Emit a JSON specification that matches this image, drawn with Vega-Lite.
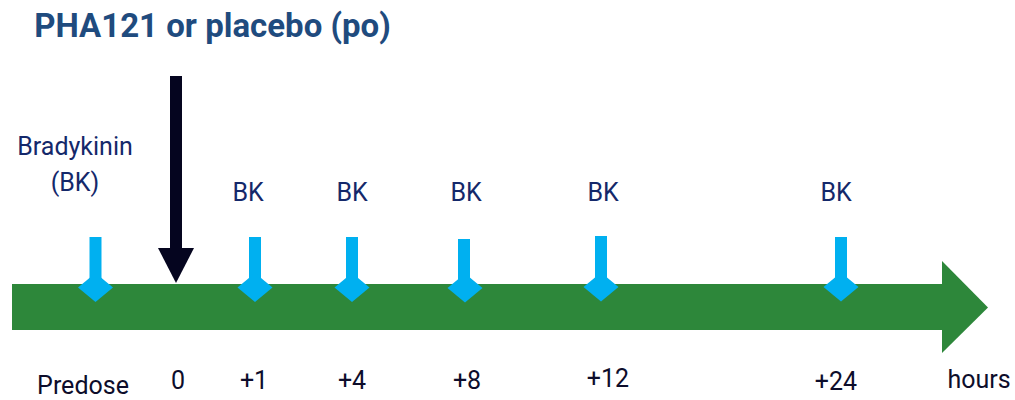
{
  "$schema": "https://vega.github.io/schema/vega-lite/v6.json",
  "width": 1015,
  "height": 400,
  "autosize": {"type": "fit", "contains": "padding"},
  "padding": 0,
  "background": "white",
  "config": {"view": {"stroke": null}},
  "datasets": {
    "band": [{"x": 12, "x2": 943, "y": 284, "y2": 330}],
    "head": [{"x": 942, "y": 261, "y2": 353}, {"x": 988, "y": 307.5, "y2": 307.5}],
    "shaft": [{"x": 170, "x2": 182, "y": 76, "y2": 250}],
    "dosehead": [{"y": 248, "x": 158, "x2": 194}, {"y": 283, "x": 176, "x2": 176}],
    "bk": [
      {"x": 95.5, "y": 237, "y2": 280},
      {"x": 255, "y": 237, "y2": 280},
      {"x": 352, "y": 237, "y2": 280},
      {"x": 464, "y": 239, "y2": 280},
      {"x": 601, "y": 236, "y2": 280},
      {"x": 841, "y": 237, "y2": 280}
    ],
    "diamonds": [
      {"x": 95.5, "y": 287.5},
      {"x": 255, "y": 287.5},
      {"x": 352, "y": 287.5},
      {"x": 465, "y": 288},
      {"x": 601, "y": 287},
      {"x": 841, "y": 287}
    ],
    "bklabels": [
      {"x": 75, "y": 155, "t": "Bradykinin"},
      {"x": 75, "y": 191, "t": "(BK)"},
      {"x": 248, "y": 201, "t": "BK"},
      {"x": 352, "y": 201, "t": "BK"},
      {"x": 466, "y": 201, "t": "BK"},
      {"x": 603, "y": 201, "t": "BK"},
      {"x": 836, "y": 201, "t": "BK"}
    ],
    "timelabels": [
      {"x": 83, "y": 394, "t": "Predose"},
      {"x": 178, "y": 389, "t": "0"},
      {"x": 254, "y": 389, "t": "+1"},
      {"x": 352, "y": 389, "t": "+4"},
      {"x": 467, "y": 389, "t": "+8"},
      {"x": 608, "y": 387, "t": "+12"},
      {"x": 836, "y": 390, "t": "+24"},
      {"x": 979, "y": 388, "t": "hours"}
    ],
    "title": [{"x": 212.5, "y": 37, "t": "PHA121 or placebo (po)"}]
  },
  "layer": [
    {
      "data": {"name": "band"},
      "mark": {"type": "rect", "color": "#2d873a"},
      "encoding": {
        "x": {"field": "x", "type": "quantitative", "scale": {"domain": [0, 1015], "nice": false, "zero": false}, "axis": null},
        "x2": {"field": "x2"},
        "y": {"field": "y", "type": "quantitative", "scale": {"domain": [0, 400], "reverse": true, "nice": false, "zero": false}, "axis": null},
        "y2": {"field": "y2"}
      }
    },
    {
      "data": {"name": "head"},
      "mark": {"type": "area", "orient": "vertical", "color": "#2d873a"},
      "encoding": {
        "x": {"field": "x", "type": "quantitative"},
        "y": {"field": "y", "type": "quantitative"},
        "y2": {"field": "y2"}
      }
    },
    {
      "data": {"name": "shaft"},
      "mark": {"type": "rect", "color": "#05051f"},
      "encoding": {
        "x": {"field": "x", "type": "quantitative"},
        "x2": {"field": "x2"},
        "y": {"field": "y", "type": "quantitative"},
        "y2": {"field": "y2"}
      }
    },
    {
      "data": {"name": "dosehead"},
      "mark": {"type": "area", "orient": "horizontal", "color": "#05051f"},
      "encoding": {
        "y": {"field": "y", "type": "quantitative"},
        "x": {"field": "x", "type": "quantitative"},
        "x2": {"field": "x2"}
      }
    },
    {
      "data": {"name": "bk"},
      "mark": {"type": "rule", "color": "#00b0f0", "strokeWidth": 12, "strokeCap": "butt"},
      "encoding": {
        "x": {"field": "x", "type": "quantitative"},
        "y": {"field": "y", "type": "quantitative"},
        "y2": {"field": "y2"}
      }
    },
    {
      "data": {"name": "diamonds"},
      "mark": {"type": "point", "shape": "M-1,0L0,-0.83L1,0L0,0.83Z", "filled": true, "opacity": 1, "color": "#00b0f0", "size": 1225, "strokeWidth": 0},
      "encoding": {
        "x": {"field": "x", "type": "quantitative"},
        "y": {"field": "y", "type": "quantitative"}
      }
    },
    {
      "data": {"name": "bklabels"},
      "mark": {"type": "text", "font": "Roboto", "fontSize": 25, "color": "#14286a", "align": "center", "baseline": "alphabetic"},
      "encoding": {
        "x": {"field": "x", "type": "quantitative"},
        "y": {"field": "y", "type": "quantitative"},
        "text": {"field": "t"}
      }
    },
    {
      "data": {"name": "timelabels"},
      "mark": {"type": "text", "font": "Roboto", "fontSize": 25, "color": "#0d0d2b", "align": "center", "baseline": "alphabetic"},
      "encoding": {
        "x": {"field": "x", "type": "quantitative"},
        "y": {"field": "y", "type": "quantitative"},
        "text": {"field": "t"}
      }
    },
    {
      "data": {"name": "title"},
      "mark": {"type": "text", "font": "Roboto", "fontWeight": "bold", "fontSize": 33, "color": "#1f4b7e", "align": "center", "baseline": "alphabetic"},
      "encoding": {
        "x": {"field": "x", "type": "quantitative"},
        "y": {"field": "y", "type": "quantitative"},
        "text": {"field": "t"}
      }
    }
  ]
}
